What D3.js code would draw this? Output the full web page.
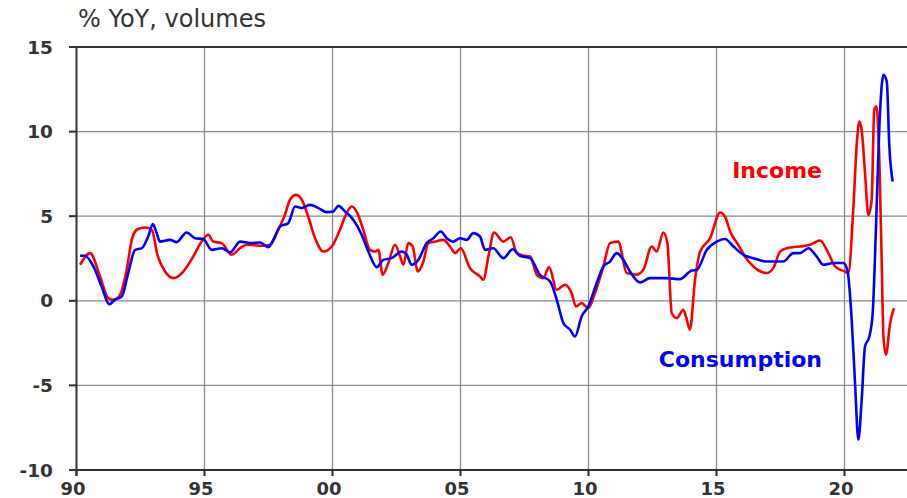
<!DOCTYPE html>
<html><head><meta charset="utf-8">
<script src="https://cdn.jsdelivr.net/npm/d3@7"></script>
<style>html,body{margin:0;padding:0;background:#fff;overflow:hidden}</style>
</head><body>
<svg id="chart" width="907" height="498"></svg>
<script>
const xTicks = [1990, 1995, 2000, 2005, 2010, 2015, 2020];
const xTickLabels = ["90", "95", "00", "05", "10", "15", "20"];
const yTicks = [-10, -5, 0, 5, 10, 15];
const yTickLabels = ["-10", "-5", "0", "5", "10", "15"];

const incomeDates = [1990.14,1990.53,1990.92,1991.24,1991.44,1991.7,1991.96,1992.16,1992.35,1992.68,1992.94,1993.16,1993.46,1993.78,1994.17,1994.56,1994.89,1995.15,1995.34,1995.67,1996.06,1996.39,1996.65,1997.3,1997.56,1997.88,1998.14,1998.34,1998.57,1998.8,1999.05,1999.32,1999.64,1999.97,2000.29,2000.55,2000.75,2000.97,2001.2,2001.46,2001.66,2001.79,2001.96,2002.18,2002.44,2002.64,2002.77,2002.96,2003.13,2003.33,2003.55,2003.74,2004.0,2004.33,2004.59,2004.79,2005.01,2005.37,2005.76,2005.89,2006.09,2006.31,2006.67,2006.96,2007.2,2007.45,2007.72,2007.98,2008.23,2008.46,2008.76,2009.08,2009.34,2009.51,2009.73,2009.99,2010.25,2010.58,2010.84,2011.16,2011.49,2011.88,2012.14,2012.47,2012.66,2012.92,2013.08,2013.25,2013.45,2013.7,2013.82,2013.96,2014.16,2014.36,2014.75,2015.14,2015.33,2015.53,2015.85,2016.11,2016.44,2016.96,2017.22,2017.48,2017.74,2018.26,2018.65,2019.04,2019.37,2019.63,2020.02,2020.15,2020.34,2020.48,2020.58,2020.67,2020.8,2020.93,2021.06,2021.16,2021.25,2021.36,2021.45,2021.52,2021.62,2021.78,2021.93];
const incomeValues = [2.13,2.82,1.44,0.16,0.06,0.35,1.83,3.6,4.2,4.33,4.2,2.72,1.73,1.34,1.73,2.62,3.5,3.9,3.5,3.41,2.72,3.11,3.31,3.25,3.31,4.2,5.08,5.97,6.26,5.97,4.98,3.7,2.91,3.21,4.2,5.18,5.57,5.18,4.2,3.01,2.91,3.01,1.54,2.23,3.31,2.62,2.13,3.41,3.21,1.73,2.32,3.41,3.5,3.6,3.21,2.82,3.11,1.93,1.44,1.24,2.62,4.04,3.5,3.76,2.82,2.68,2.62,1.54,1.34,1.99,0.65,0.95,0.45,-0.34,-0.14,-0.43,0.45,2.03,3.41,3.5,1.64,1.54,1.83,3.21,2.91,4.04,3.41,-0.73,-1.02,-0.53,-1.0,-1.71,1.24,2.91,3.7,5.22,4.98,4.1,3.31,2.62,2.03,1.64,1.93,2.91,3.11,3.21,3.31,3.56,2.82,2.03,1.73,1.64,5.38,9.32,10.6,10.1,7.55,5.08,5.97,11.29,11.48,8.33,2.42,-2.11,-3.19,-1.32,-0.43];

const consDates = [1990.14,1990.33,1990.66,1990.98,1991.28,1991.5,1991.77,1992.02,1992.29,1992.55,1992.8,1992.98,1993.13,1993.26,1993.65,1993.91,1994.3,1994.63,1994.95,1995.28,1995.67,1996.0,1996.39,1996.78,1997.17,1997.49,1997.69,1997.95,1998.27,1998.54,1998.8,1999.12,1999.45,1999.77,2000.03,2000.23,2000.49,2000.81,2001.14,2001.4,2001.73,2001.98,2002.31,2002.7,2002.9,2003.09,2003.35,2003.68,2003.94,2004.23,2004.46,2004.72,2004.98,2005.24,2005.5,2005.76,2005.96,2006.28,2006.67,2007.04,2007.32,2007.72,2008.1,2008.5,2008.76,2009.02,2009.28,2009.47,2009.73,2009.99,2010.32,2010.58,2010.84,2011.1,2011.36,2011.62,2012.01,2012.4,2013.05,2013.57,2014.03,2014.23,2014.62,2015.01,2015.33,2015.66,2016.05,2016.44,2016.96,2017.61,2018.0,2018.26,2018.59,2018.91,2019.17,2019.56,2019.95,2020.11,2020.28,2020.41,2020.54,2020.67,2020.8,2020.97,2021.1,2021.23,2021.36,2021.52,2021.65,2021.75,2021.88];
const consValues = [2.66,2.66,2.03,0.85,-0.2,0.06,0.26,1.64,3.01,3.11,3.8,4.53,4.0,3.5,3.6,3.47,4.04,3.7,3.65,3.01,3.11,2.86,3.5,3.41,3.45,3.17,3.6,4.39,4.59,5.57,5.48,5.67,5.48,5.24,5.28,5.61,5.28,4.79,3.9,2.91,1.99,2.42,2.52,2.91,2.72,2.13,2.42,3.41,3.7,4.1,3.7,3.5,3.7,3.6,4.0,3.8,3.01,3.11,2.52,3.05,2.66,2.52,1.54,1.14,0.06,-1.32,-1.71,-2.11,-0.93,-0.34,1.05,2.03,2.32,2.82,2.42,1.73,1.08,1.34,1.34,1.28,1.79,1.83,3.01,3.5,3.65,3.21,2.72,2.52,2.32,2.32,2.82,2.82,3.11,2.62,2.13,2.23,2.23,1.83,-1.12,-4.86,-8.21,-5.85,-2.7,-2.11,-0.73,4.39,10.3,13.36,12.96,9.12,7.05];

const svg = d3.select("#chart");
const x = d3.scaleLinear().domain([1990, 2022.44]).range([76.5, 907]);
const y = d3.scaleLinear().domain([-10, 15]).range([470, 47]);

svg.append("text").attr("x", 78).attr("y", 27)
  .attr("font-family", "DejaVu Sans").attr("font-size", 24).attr("fill", "#333")
  .text("% YoY, volumes");

svg.append("g").selectAll("line").data(yTicks.filter(d => d !== -10 && d !== 15)).join("line")
  .attr("x1", 69).attr("x2", 907).attr("y1", d => y(d)).attr("y2", d => y(d))
  .attr("stroke", "#8a8a8a").attr("stroke-width", 1.3);
svg.append("g").selectAll("line").data(xTicks.filter(d => d !== 1990)).join("line")
  .attr("x1", d => x(d)).attr("x2", d => x(d)).attr("y1", 47).attr("y2", 476)
  .attr("stroke", "#8a8a8a").attr("stroke-width", 1.3);

const line = d3.line().x(d => x(d[0])).y(d => y(d[1])).curve(d3.curveMonotoneX);
svg.append("path").datum(d3.zip(incomeDates, incomeValues))
  .attr("d", line).attr("fill", "none").attr("stroke", "#ff0000").attr("stroke-width", 2.6)
  .attr("stroke-linejoin", "round");
svg.append("path").datum(d3.zip(consDates, consValues))
  .attr("d", line).attr("fill", "none").attr("stroke", "#0000ff").attr("stroke-width", 2.6)
  .attr("stroke-linejoin", "round");

svg.append("line").attr("x1", 69).attr("x2", 907).attr("y1", y(15)).attr("y2", y(15))
  .attr("stroke", "#333").attr("stroke-width", 2);
svg.append("line").attr("x1", 69).attr("x2", 907).attr("y1", y(-10)).attr("y2", y(-10))
  .attr("stroke", "#333").attr("stroke-width", 2);
svg.append("line").attr("x1", x(1990)).attr("x2", x(1990)).attr("y1", y(15) - 1).attr("y2", 476)
  .attr("stroke", "#333").attr("stroke-width", 2);
svg.append("g").selectAll("line").data(yTicks).join("line")
  .attr("x1", 69).attr("x2", 76).attr("y1", d => y(d)).attr("y2", d => y(d))
  .attr("stroke", "#333").attr("stroke-width", 2);
svg.append("g").selectAll("line").data(xTicks).join("line")
  .attr("x1", d => x(d)).attr("x2", d => x(d)).attr("y1", 470).attr("y2", 476)
  .attr("stroke", "#333").attr("stroke-width", 2);

svg.append("g").selectAll("text").data(yTicks).join("text")
  .attr("x", 53).attr("y", d => y(d)).attr("dy", "0.36em")
  .attr("text-anchor", "end").attr("font-family", "DejaVu Sans").attr("font-weight", "bold")
  .attr("font-size", 18.5).attr("fill", "#333")
  .text((d, i) => yTickLabels[i]);
svg.append("g").selectAll("text").data(xTicks).join("text")
  .attr("x", d => x(d) - 3.5).attr("y", 495)
  .attr("text-anchor", "middle").attr("font-family", "DejaVu Sans").attr("font-weight", "bold")
  .attr("font-size", 18).attr("fill", "#333")
  .text((d, i) => xTickLabels[i]);

svg.append("text").attr("x", 822).attr("y", 178).attr("text-anchor", "end")
  .attr("font-family", "DejaVu Sans").attr("font-weight", "bold").attr("font-size", 22)
  .attr("fill", "#ff0000").text("Income");
svg.append("text").attr("x", 822).attr("y", 367).attr("text-anchor", "end")
  .attr("font-family", "DejaVu Sans").attr("font-weight", "bold").attr("font-size", 22)
  .attr("fill", "#0000ff").text("Consumption");
</script>
</body></html>
